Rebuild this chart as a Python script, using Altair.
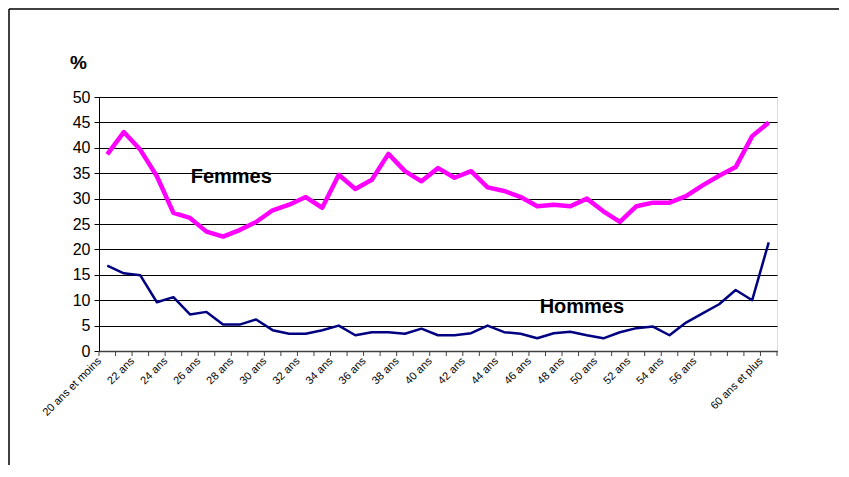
import altair as alt
import pandas as pd

# Categories (age)
categories = ["20 ans et moins"] + [f"{a} ans" for a in range(21, 60)] + ["60 ans et plus"]

femmes = [38.7, 43.1, 39.6, 34.4, 27.2, 26.2, 23.5, 22.5, 23.8, 25.4,
          27.7, 28.8, 30.3, 28.2, 34.7, 31.9, 33.7, 38.8, 35.4, 33.4,
          36.0, 34.1, 35.4, 32.2, 31.5, 30.3, 28.5, 28.8, 28.5, 30.0,
          27.5, 25.4, 28.5, 29.2, 29.2, 30.5, 32.6, 34.5, 36.2, 42.3, 45.0]

hommes = [16.8, 15.3, 14.9, 9.6, 10.6, 7.2, 7.7, 5.2, 5.2, 6.2,
          4.1, 3.4, 3.4, 4.1, 5.0, 3.1, 3.7, 3.7, 3.4, 4.4,
          3.1, 3.1, 3.5, 5.0, 3.7, 3.4, 2.5, 3.5, 3.8, 3.1,
          2.5, 3.7, 4.5, 4.8, 3.1, 5.6, 7.4, 9.2, 12.0, 10.0, 21.4]

series_names = ["Femmes", "Hommes"]
series_colors = ["#FF00FF", "#000080"]

# Labels shown on the x axis (category indices)
label_idx = [i for i in range(0, 41, 2) if i != 38]

ann_text = ["Femmes", "Hommes"]
ann_x = [7.5, 28.7]
ann_y = [34.2, 8.6]

y_ticks = [0, 5, 10, 15, 20, 25, 30, 35, 40, 45, 50]

FONT = "Liberation Sans"

n = len(categories)
rows = []
for i in range(n):
    rows.append({"i": i, "cat": categories[i], "serie": "Femmes", "v": femmes[i]})
    rows.append({"i": i, "cat": categories[i], "serie": "Hommes", "v": hommes[i]})
df = pd.DataFrame(rows)

bounds = pd.DataFrame({"b": [k - 0.5 for k in range(n + 1)]})
ann = pd.DataFrame({"t": ann_text, "x": ann_x, "y": ann_y})

label_array = "[" + ",".join("'" + c + "'" for c in categories) + "]"

xscale = alt.Scale(domain=[-0.5, n - 0.5], nice=False, zero=False)
yscale = alt.Scale(domain=[0, 50], nice=False)

xaxis = alt.Axis(values=label_idx, labelExpr=label_array + "[datum.value]",
                 ticks=False, grid=False, domainColor="#404040", domainWidth=1.5,
                 labelAngle=-45, labelAlign="right", labelBaseline="middle",
                 labelFontSize=11, labelFont=FONT, labelColor="black",
                 labelPadding=8, labelOffset=-8, labelOverlap=False, title=None)
yaxis = alt.Axis(values=y_ticks, tickSize=5, tickColor="black", domainColor="black",
                 grid=True, gridColor="black", gridWidth=1, labelOverlap=False,
                 labelFontSize=16, labelFont=FONT, labelColor="black", labelPadding=4,
                 title="%", titleAngle=0, titleX=-21, titleY=-35,
                 titleAlign="center", titleBaseline="middle",
                 titleFontSize=19, titleFont=FONT, titleFontWeight="bold", titleColor="black")

W, H = 678, 254

lines = alt.Chart(df).mark_line(strokeJoin="round").encode(
    x=alt.X("i:Q", scale=xscale, axis=xaxis),
    y=alt.Y("v:Q", scale=yscale, axis=yaxis),
    color=alt.Color("serie:N", scale=alt.Scale(domain=series_names, range=series_colors), legend=None),
    strokeWidth=alt.StrokeWidth("serie:N", scale=alt.Scale(domain=series_names, range=[4.5, 2.5]), legend=None),
)

ticks = alt.Chart(bounds).mark_rule(color="#404040", strokeWidth=1).encode(
    x=alt.X("b:Q", scale=xscale, axis=xaxis),
    y=alt.value(H),
    y2=alt.value(H + 5),
)

labels = alt.Chart(ann).mark_text(font=FONT, fontSize=20, fontWeight="bold", color="black").encode(
    x=alt.X("x:Q", scale=xscale, axis=xaxis),
    y=alt.Y("y:Q", scale=yscale, axis=yaxis),
    text="t:N",
)

one = pd.DataFrame({"k": [0]})
border_v = alt.Chart(one).mark_rule(color="black", strokeWidth=1.5).encode(
    x=alt.value(-90), y=alt.value(-88), y2=alt.value(400))
border_h = alt.Chart(one).mark_rule(color="black", strokeWidth=1.5).encode(
    x=alt.value(-90), x2=alt.value(800), y=alt.value(-88))

chart = alt.layer(lines, ticks, labels, border_v, border_h).properties(
    width=W, height=H,
    autosize=alt.AutoSizeParams(type="none"),
    padding={"left": 91, "top": 89, "right": 62, "bottom": 114},
).configure_view(stroke="#868686", strokeWidth=1.5).configure(background="white")

chart.save("out.html", embed_options={"renderer": "svg", "actions": False})
